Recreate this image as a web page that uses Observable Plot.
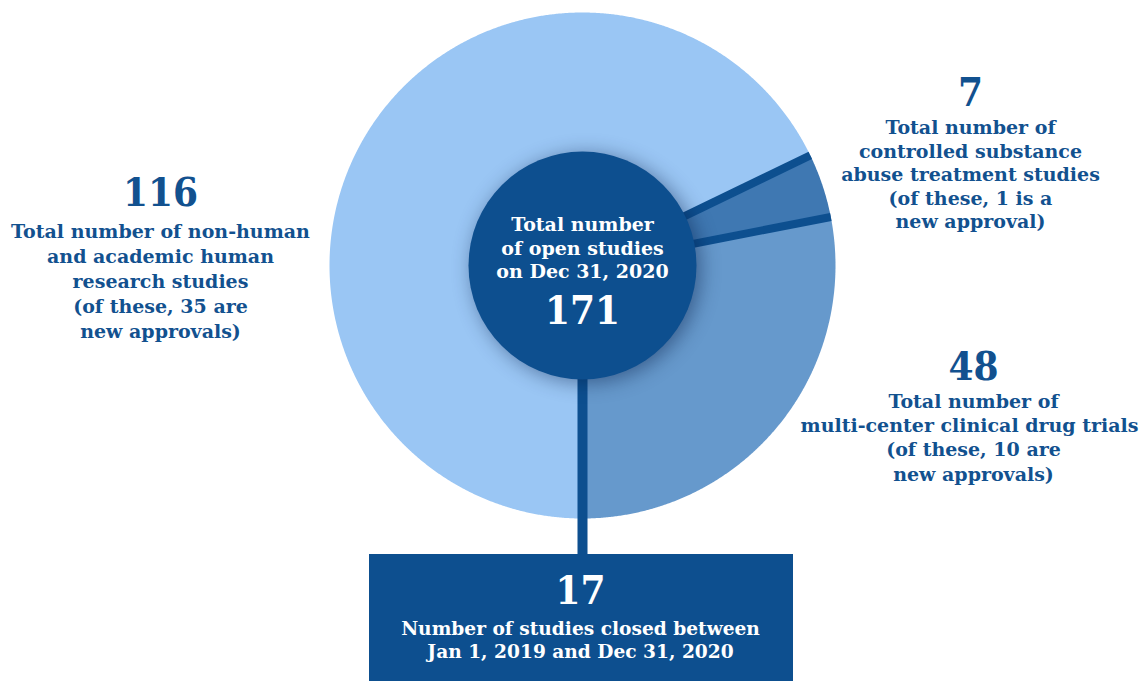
<!DOCTYPE html>
<html>
<head>
<meta charset="utf-8">
<script src="https://cdn.jsdelivr.net/npm/d3@7"></script>
<script src="https://cdn.jsdelivr.net/npm/@observablehq/plot@0.6"></script>
<style>
  html, body { margin: 0; padding: 0; background: #fff; }
  svg { display: block; }
</style>
</head>
<body>
<div id="chart"></div>
<script>
// ---- data ----
const categories = ["Controlled substance abuse treatment studies", "Multi-center clinical drug trials", "Non-human and academic human research studies"];
const values = [7, 48, 116];
const newApprovals = [1, 10, 35];
const totalOpen = 171;
const closedStudies = 17;
const labelLines = [
  ["Total number of", "controlled substance", "abuse treatment studies", "(of these, 1 is a", "new approval)"],
  ["Total number of", "multi-center clinical drug trials", "(of these, 10 are", "new approvals)"],
  ["Total number of non-human", "and academic human", "research studies", "(of these, 35 are", "new approvals)"]
];
const centerLines = ["Total number", "of open studies", "on Dec 31, 2020"];
const closedLines = ["Number of studies closed between", "Jan 1, 2019 and Dec 31, 2020"];
const sliceColors = ["#3F78B2", "#6699CC", "#9AC6F4"];

// ---- layout ----
const W = 1143, H = 681, R = 253, cx = 582, cy = 265;
const dark = "#0D4F8F";
const textColor = "#12518F";
const sx = px => (px - cx) / R;
const sy = py => (cy - py) / R;

const total = d3.sum(values);
const start = Math.PI - 2 * Math.PI * (values[0] + values[1]) / total;
const pie = d3.pie().sort(null).value(d => d.value).startAngle(start).endAngle(start + 2 * Math.PI);
const arcs = pie(categories.map((c, i) => ({key: c, value: values[i]})));

const pts = [];
for (const a of arcs) {
  const n = Math.max(4, Math.ceil((a.endAngle - a.startAngle) / 0.005));
  pts.push({key: a.data.key, x: 0, y: 0});
  for (let k = 0; k <= n; k++) {
    const t = a.startAngle + (a.endAngle - a.startAngle) * k / n;
    pts.push({key: a.data.key, x: Math.sin(t), y: Math.cos(t)});
  }
  pts.push({key: a.data.key, x: 0, y: 0});
}
// separators: boundaries of the small slice
const seps = [arcs[0].startAngle, arcs[0].endAngle].map(t => ({x1: 0, y1: 0, x2: Math.sin(t), y2: Math.cos(t)}));
const bottomAngle = arcs[1].endAngle;

const font = "DejaVu Serif";
const numFont = "DejaVu Serif Condensed, DejaVu Serif";
const txt = (x, y, text, size, opts = {}) => Plot.text([{x, y, text}], {
  x: "x", y: "y", text: "text", fontSize: size, fontWeight: "bold", fill: textColor,
  lineAnchor: "top", textAnchor: "middle", lineHeight: 1.32, ...opts
});
const num = (x, y, text, opts = {}) => txt(x, y, text, 40, {fontFamily: numFont, ...opts});

const svg = Plot.plot({
  width: W, height: H, margin: 0,
  x: {domain: [sx(0), sx(W)], axis: null},
  y: {domain: [sy(H), sy(0)], axis: null},
  color: {domain: categories, range: sliceColors},
  style: {fontFamily: font, background: "white", overflow: "visible"},
  marks: [
    Plot.line(pts, {x: "x", y: "y", z: "key", fill: "key", stroke: "none"}),
    Plot.link(seps, {x1: "x1", y1: "y1", x2: "x2", y2: "y2", stroke: dark, strokeWidth: 8}),
    Plot.link([{x1: 0, y1: 0, x2: Math.sin(bottomAngle) * sy(0), y2: sy(560)}], {x1: "x1", y1: "y1", x2: "x2", y2: "y2", stroke: dark, strokeWidth: 10}),
    Plot.dot([{x: 0, y: 0}], {x: "x", y: "y", r: 114, fill: dark, stroke: "none"}),
    Plot.rect([{x1: sx(369), x2: sx(793), y1: sy(554), y2: sy(H)}], {x1: "x1", x2: "x2", y1: "y1", y2: "y2", fill: dark, inset: 0}),
    // center
    txt(0, sy(214), centerLines.join("\n"), 19, {fill: "white", lineHeight: 1.24}),
    num(0, sy(286), String(totalOpen), {fill: "white"}),
    // 116 label
    num(sx(160), sy(168), String(values[2])),
    txt(sx(160), sy(220), labelLines[2].join("\n"), 19, {lineHeight: 1.316}),
    // 7 label
    num(sx(970), sy(68), String(values[0])),
    txt(sx(970), sy(117), labelLines[0].join("\n"), 19, {lineHeight: 1.24}),
    // 48 label
    num(sx(973), sy(342), String(values[1])),
    txt(sx(973), sy(390), [labelLines[1][0], "", labelLines[1][2], labelLines[1][3]].join("\n"), 19, {lineHeight: 1.28}),
    txt(sx(1138), sy(390), "\n" + labelLines[1][1], 19, {textAnchor: "end", lineHeight: 1.28}),
    // closed box
    num(sx(580), sy(566), String(closedStudies), {fill: "white"}),
    txt(sx(580), sy(618), closedLines.join("\n"), 18.6, {fill: "white", lineHeight: 1.24})
  ]
});
d3.select(svg).select('g[aria-label="dot"]').style("filter", "drop-shadow(4px 3px 10px rgba(0,20,60,0.45))");
document.getElementById("chart").appendChild(svg);
</script>
</body>
</html>
